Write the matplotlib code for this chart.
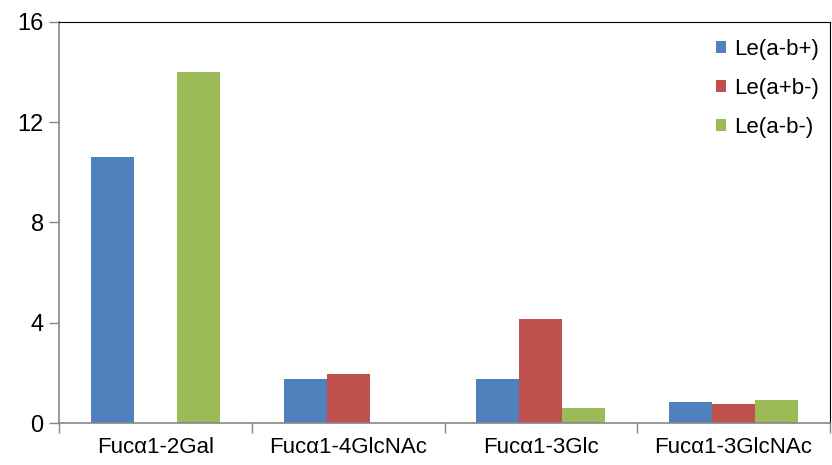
import matplotlib
matplotlib.use("Agg")
import matplotlib.pyplot as plt
import numpy as np

categories = ["Fucα1-2Gal", "Fucα1-4GlcNAc", "Fucα1-3Glc", "Fucα1-3GlcNAc"]
series_names = ["Le(a-b+)", "Le(a+b-)", "Le(a-b-)"]
le_a_neg_b_pos = [10.6, 1.75, 1.75, 0.85]
le_a_pos_b_neg = [0.0, 1.95, 4.15, 0.75]
le_a_neg_b_neg = [14.0, 0.0, 0.6, 0.92]
y_ticks = [0, 4, 8, 12, 16]

colors = ["#4F81BD", "#C0504D", "#9BBB59"]
series = [le_a_neg_b_pos, le_a_pos_b_neg, le_a_neg_b_neg]

plt.rcParams["font.family"] = ["Liberation Sans", "DejaVu Sans"]

fig = plt.figure(figsize=(8.32, 4.65), dpi=100)
ax = fig.add_axes([59 / 832, 1 - 423 / 465, (830 - 59) / 832, (423 - 22) / 465])

x = np.arange(len(categories))
width = 0.223
for i, (vals, c, name) in enumerate(zip(series, colors, series_names)):
    ax.bar(x + (i - 1) * width, vals, width, color=c, label=name, zorder=2)

ax.set_xlim(-0.5, len(categories) - 0.5)
ax.set_ylim(0, 16)
ax.set_yticks(y_ticks)
ax.set_yticklabels([str(t) for t in y_ticks], fontsize=17)

ax.set_xticks(x)
ax.set_xticklabels(categories, fontsize=16)
ax.tick_params(axis="x", which="major", length=0, pad=10)
ax.set_xticks(np.arange(len(categories) + 1) - 0.5, minor=True)
ax.tick_params(axis="x", which="minor", length=7, color="#868686", width=1)
ax.tick_params(axis="y", length=7, color="#868686", width=1, pad=4)

for side in ("left", "bottom"):
    ax.spines[side].set_color("#868686")
    ax.spines[side].set_linewidth(1.2)
for side in ("top", "right"):
    ax.spines[side].set_color("black")
    ax.spines[side].set_linewidth(0.8)

leg = ax.legend(loc="upper right", bbox_to_anchor=(1.0, 0.985), frameon=False,
                fontsize=16, handlelength=0.45, handleheight=0.45,
                handletextpad=0.35, labelspacing=0.8, borderaxespad=0.1)

fig.savefig("out.png", dpi=100)
